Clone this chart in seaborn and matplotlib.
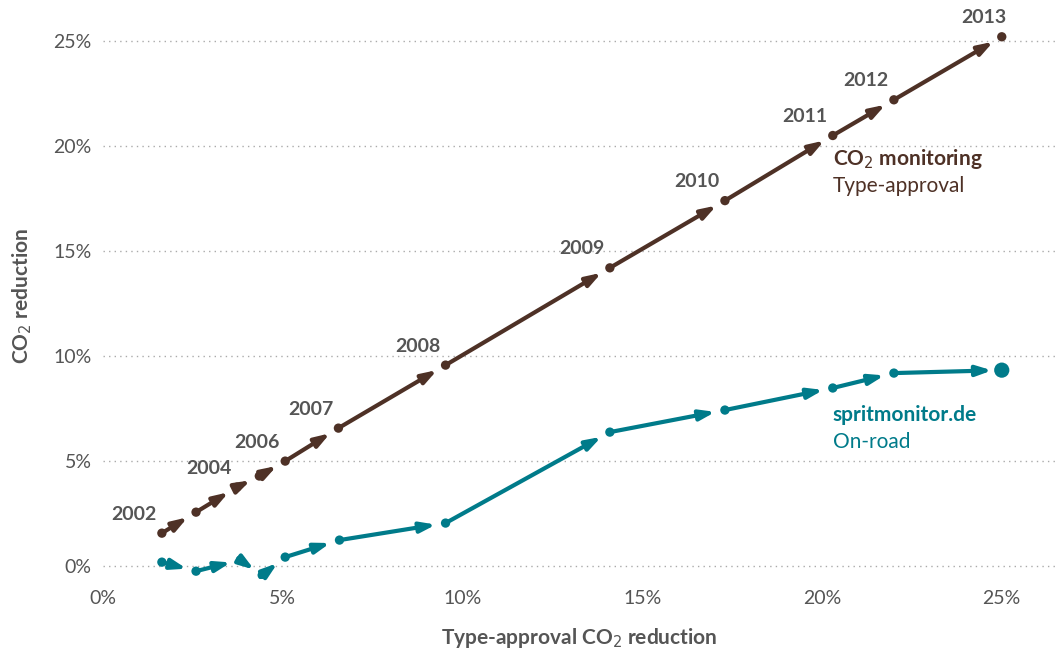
import matplotlib
matplotlib.use("Agg")
import matplotlib.pyplot as plt
import seaborn as sns
import pandas as pd

years = [2002, 2003, 2004, 2005, 2006, 2007, 2008, 2009, 2010, 2011, 2012, 2013]
ta_x = [1.64, 2.59, 3.73, 4.35, 5.07, 6.55, 9.53, 14.1, 17.3, 20.3, 22.0, 25.0]
ta_y = [1.57, 2.57, 3.76, 4.29, 5.0, 6.57, 9.57, 14.2, 17.4, 20.5, 22.2, 25.2]
or_x = [1.64, 2.59, 3.82, 4.43, 5.07, 6.58, 9.53, 14.1, 17.3, 20.3, 22.0, 25.0]
or_y = [0.19, -0.24, 0.29, -0.43, 0.43, 1.24, 2.05, 6.38, 7.43, 8.48, 9.19, 9.33]
labeled_years = [2002, 2004, 2006, 2007, 2008, 2009, 2010, 2011, 2012, 2013]

BROWN = "#4e3126"
TEAL = "#007b8a"
GREY = "#555555"

sns.set_theme(style="white")
plt.rcParams['font.family'] = ['Lato', 'DejaVu Sans']

fig, ax = plt.subplots(figsize=(10.61, 6.51), dpi=100)
fig.subplots_adjust(left=0.097, right=0.995, bottom=0.111, top=0.979)

df = pd.DataFrame({"x": ta_x + or_x, "y": ta_y + or_y,
                   "s": ["ta"] * 12 + ["or"] * 12})
sizes = [45] * 12 + [45] * 11 + [120]
sns.scatterplot(data=df, x="x", y="y", hue="s", palette={"ta": BROWN, "or": TEAL},
                s=sizes, edgecolor="none", legend=False, ax=ax, zorder=3)

def arrows(xs, ys, color):
    for i in range(len(xs) - 1):
        ax.annotate("", xy=(xs[i + 1], ys[i + 1]), xytext=(xs[i], ys[i]),
                    arrowprops=dict(arrowstyle="-|>,head_length=0.9,head_width=0.3",
                                    color=color, lw=3, shrinkA=0, shrinkB=7,
                                    mutation_scale=10), zorder=2)

arrows(ta_x, ta_y, BROWN)
arrows(or_x, or_y, TEAL)

for yr, x, y in zip(years, ta_x, ta_y):
    if yr in labeled_years:
        if yr == 2013:
            ax.text(x - 0.5, y + 0.5, str(yr), ha="center", va="bottom",
                    fontsize=14, fontweight="bold", color=GREY)
        else:
            ax.text(x - 0.15, y + 0.5, str(yr), ha="right", va="bottom",
                    fontsize=14, fontweight="bold", color=GREY)

ax.text(20.3, 19.4, "CO$_2$ monitoring", fontsize=15, fontweight="bold", color=BROWN, va="center")
ax.text(20.3, 18.1, "Type-approval", fontsize=15, color=BROWN, va="center")
ax.text(20.3, 7.2, "spritmonitor.de", fontsize=15, fontweight="bold", color=TEAL, va="center")
ax.text(20.3, 5.9, "On-road", fontsize=15, color=TEAL, va="center")

ax.set_xlim(0, 26.5)
ax.set_ylim(-0.6, 26.3)
ax.set_xticks([0, 5, 10, 15, 20, 25])
ax.set_xticklabels([f"{v}%" for v in [0, 5, 10, 15, 20, 25]])
ax.set_yticks([0, 5, 10, 15, 20, 25])
ax.set_yticklabels([f"{v}%" for v in [0, 5, 10, 15, 20, 25]])
ax.tick_params(axis="both", labelsize=14, colors=GREY, length=0, pad=8)
ax.yaxis.grid(True, linestyle=(0, (1, 3)), color="#aaaaaa", lw=1)
for s in ax.spines.values():
    s.set_visible(False)
ax.set_xlabel("Type-approval CO$_2$ reduction", fontsize=15, fontweight="bold", color=GREY, labelpad=14)
ax.set_ylabel("CO$_2$ reduction", fontsize=15, fontweight="bold", color=GREY, labelpad=14)

fig.savefig("out.png", dpi=100)
